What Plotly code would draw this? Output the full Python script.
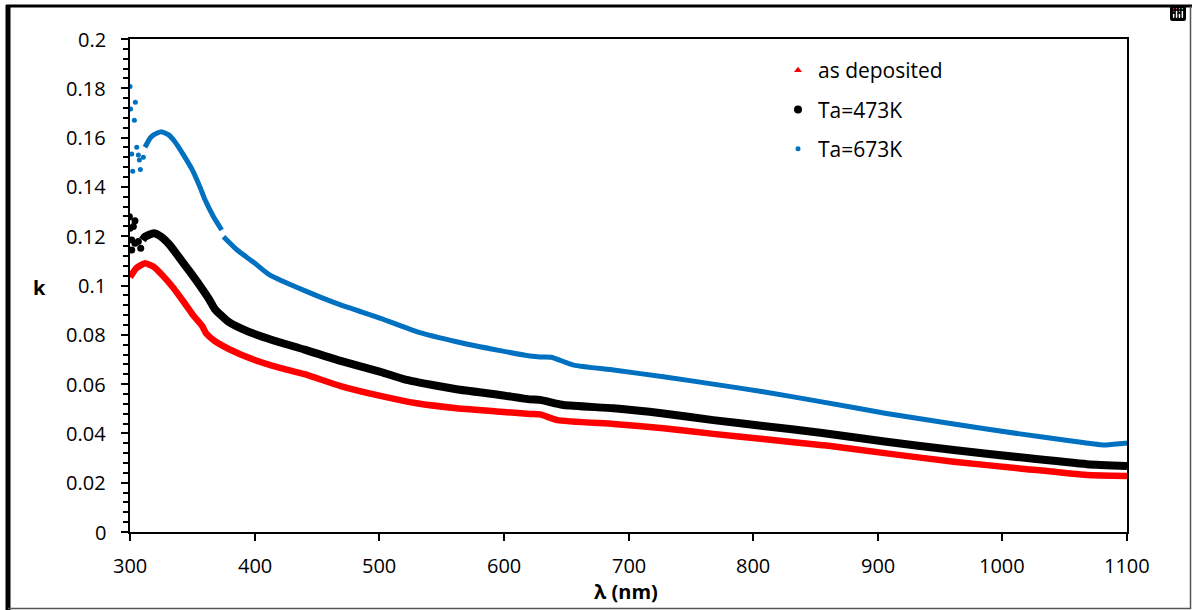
import plotly.graph_objects as go

# ---- data ----
wl_red = [300, 305, 312, 319, 327, 335, 343, 351, 358, 361, 368, 384, 400, 419, 440, 469, 501,
          530, 562, 597, 621, 629, 643, 688, 728, 768, 808, 854, 862, 907, 961, 1014, 1068, 1100]
k_red = [0.1033, 0.1070, 0.1090, 0.1076, 0.1036, 0.0989, 0.0934, 0.0877, 0.0835, 0.0806, 0.0775,
         0.0731, 0.0698, 0.0668, 0.0640, 0.0592, 0.0552, 0.0522, 0.0502, 0.0488, 0.0479, 0.0477,
         0.0454, 0.0438, 0.0421, 0.0398, 0.0377, 0.0353, 0.0349, 0.0319, 0.0285, 0.0258, 0.0231, 0.0227]

wl_black_scatter = [299.5, 304, 302.7, 300, 301.4, 304, 301.4, 306.7, 308.6]
k_black_scatter = [0.1279, 0.1263, 0.1239, 0.1232, 0.1185, 0.1171, 0.1144, 0.1178, 0.1151]
wl_black = [310, 312, 319, 325, 332, 340, 348, 356, 364, 368, 379, 395, 414, 440, 469, 501, 522,
            562, 597, 621, 629, 648, 688, 728, 768, 808, 854, 907, 961, 1014, 1068, 1100]
k_black = [0.1185, 0.1198, 0.1212, 0.1198, 0.1164, 0.1110, 0.1056, 0.1000, 0.0940, 0.0905, 0.0853,
           0.0813, 0.0779, 0.0740, 0.0694, 0.0650, 0.0617, 0.0579, 0.0556, 0.0538, 0.0536,
           0.0515, 0.0502, 0.0481, 0.0454, 0.0430, 0.0403, 0.0366, 0.0333, 0.0303, 0.0275, 0.0268]

wl_blue_scatter = [300, 304.3, 300.5, 303.5, 305.4, 301.4, 306.7, 307.5, 310.7, 302.2, 308.3]
k_blue_scatter = [0.1807, 0.1743, 0.1716, 0.1670, 0.1561, 0.1533, 0.1529, 0.1509, 0.1520, 0.1463, 0.1471]
wl_blue = [312, 313, 316, 319, 325, 331, 336, 343, 350, 356, 360, 367, 373.6, None, 375, 386, 400,
           412, 442, 469, 501, 530, 562, 597, 621, 629, 638, 656, 688, 728, 768, 808, 854, 907,
           961, 1014, 1054, 1081, 1098, 1100]
k_blue = [0.1561, 0.1570, 0.1597, 0.1611, 0.1624, 0.1611, 0.1583, 0.1529, 0.1469, 0.1401, 0.1350,
          0.1279, 0.1225, None, 0.1198, 0.1144, 0.1091, 0.1043, 0.0975, 0.0921, 0.0867, 0.0813,
          0.0772, 0.0736, 0.0714, 0.0710, 0.0709, 0.0677, 0.0657, 0.0630, 0.0600, 0.0569, 0.0529,
          0.0481, 0.0438, 0.0398, 0.0370, 0.0353, 0.0360, 0.0360]

series_names = ["as deposited", "Ta=473K", "Ta=673K"]
x_ticks = [300, 400, 500, 600, 700, 800, 900, 1000, 1100]
x_tick_labels = ["300", "400", "500", "600", "700", "800", "900", "1000", "1100"]
y_ticks = [0, 0.02, 0.04, 0.06, 0.08, 0.1, 0.12, 0.14, 0.16, 0.18, 0.2]
y_tick_labels = ["0", "0.02", "0.04", "0.06", "0.08", "0.1", "0.12", "0.14", "0.16", "0.18", "0.2"]
x_range = [300, 1100]
y_range = [0, 0.2]

RED = "#FF0000"
BLACK = "#000000"
BLUE = "#0070C0"
FONT = "Open Sans"

fig = go.Figure()

# curves
fig.add_trace(go.Scatter(x=wl_blue, y=k_blue, mode="lines", connectgaps=False,
                         line=dict(color=BLUE, width=5, shape="spline", smoothing=0.5),
                         showlegend=False, hoverinfo="skip"))
fig.add_trace(go.Scatter(x=wl_blue_scatter, y=k_blue_scatter, mode="markers",
                         marker=dict(color=BLUE, size=5), showlegend=False, hoverinfo="skip"))
fig.add_trace(go.Scatter(x=wl_black, y=k_black, mode="lines",
                         line=dict(color=BLACK, width=8, shape="spline", smoothing=0.5),
                         showlegend=False, hoverinfo="skip"))
fig.add_trace(go.Scatter(x=wl_black_scatter, y=k_black_scatter, mode="markers",
                         marker=dict(color=BLACK, size=7), showlegend=False, hoverinfo="skip"))
fig.add_trace(go.Scatter(x=wl_red, y=k_red, mode="lines",
                         line=dict(color=RED, width=6.5, shape="spline", smoothing=0.5),
                         showlegend=False, hoverinfo="skip"))

# legend entries
fig.add_trace(go.Scatter(x=[None], y=[None], mode="markers", name=series_names[0], legendgroup="a",
                         marker=dict(color=RED, size=7, symbol="triangle-up")))
fig.add_trace(go.Scatter(x=[None], y=[None], mode="markers", name=series_names[1], legendgroup="b",
                         marker=dict(color=BLACK, size=8)))
fig.add_trace(go.Scatter(x=[None], y=[None], mode="markers", name=series_names[2], legendgroup="c",
                         marker=dict(color=BLUE, size=5)))

L, R, T, B = 130, 65, 39, 78
W, H = 1192, 610
pw, ph = W - L - R, H - T - B


def px_x(px):
    return (px - L) / pw


def px_y(py):
    return (H - B - py) / ph


tickfont = dict(size=20, family=FONT, color="black")

annotations = [
    dict(text="<b>k</b>", xref="paper", yref="paper", x=px_x(39), y=px_y(287),
         xanchor="center", yanchor="middle", showarrow=False, font=dict(size=20, family=FONT)),
    dict(text="<b>λ (nm)</b>", xref="paper", yref="paper", x=px_x(626), y=px_y(591),
         xanchor="center", yanchor="middle", showarrow=False, font=dict(size=20, family=FONT)),
]
# tick labels placed on the axis scales, offset in pixels like the reference
for v, t in zip(x_ticks, x_tick_labels):
    annotations.append(dict(text=t, xref="x", yref="paper", x=v, y=0, yanchor="top", xanchor="center",
                            yshift=-18, showarrow=False, font=tickfont))
for v, t in zip(y_ticks, y_tick_labels):
    annotations.append(dict(text=t, xref="paper", yref="y", x=0, y=v, xanchor="right", yanchor="middle",
                            xshift=-22, showarrow=False, font=tickfont))

fig.update_layout(
    width=W, height=H,
    margin=dict(l=L, r=R, t=T, b=B, pad=0),
    paper_bgcolor="white", plot_bgcolor="white",
    font=dict(family=FONT, size=20, color="black"),
    showlegend=True,
    modebar=dict(bgcolor="rgba(0,0,0,0)", color="rgba(0,0,0,0)", activecolor="rgba(0,0,0,0)"),
    legend=dict(x=px_x(778), y=px_y(50), xanchor="left", yanchor="top",
                bgcolor="rgba(0,0,0,0)", font=dict(size=21, family=FONT),
                tracegroupgap=9, itemsizing="trace", traceorder="grouped"),
    xaxis=dict(range=x_range, tickvals=x_ticks, ticks="outside", ticklen=7, tickwidth=2,
               tickcolor="black", showline=True, linecolor="black", linewidth=2, mirror=True,
               showgrid=False, zeroline=False, showticklabels=False),
    yaxis=dict(range=y_range, tickvals=y_ticks, ticks="outside", ticklen=7, tickwidth=2,
               tickcolor="black", showline=True, linecolor="black", linewidth=2, mirror=True,
               showgrid=False, zeroline=False, showticklabels=False,
               minor=dict(dtick=0.004, tick0=0, ticks="outside", ticklen=5, tickwidth=2,
                          tickcolor="black")),
    annotations=annotations,
    shapes=[
        dict(type="line", xref="paper", yref="paper", x0=px_x(6), x1=px_x(1192), y0=px_y(6), y1=px_y(6),
             line=dict(color="black", width=3)),
        dict(type="line", xref="paper", yref="paper", x0=px_x(8), x1=px_x(8), y0=px_y(5), y1=px_y(610),
             line=dict(color="black", width=5)),
        dict(type="line", xref="paper", yref="paper", x0=px_x(1190.5), x1=px_x(1190.5), y0=px_y(6), y1=px_y(609),
             line=dict(color="#555555", width=1.5)),
        dict(type="line", xref="paper", yref="paper", x0=px_x(8), x1=px_x(1191), y0=px_y(608.5), y1=px_y(608.5),
             line=dict(color="#555555", width=1.5)),
    ],
)

fig.write_html("out.html",
               post_script="document.body.style.margin='0';document.body.style.overflow='hidden';")
